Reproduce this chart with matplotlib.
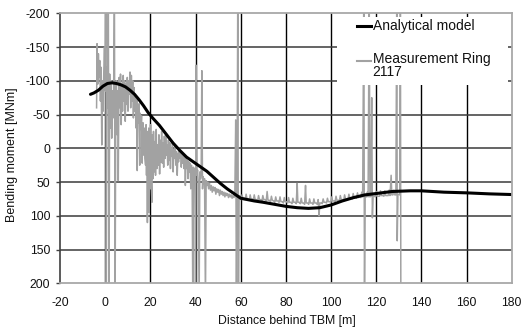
import matplotlib
matplotlib.use("Agg")
import matplotlib.pyplot as plt
from matplotlib.patches import Rectangle

plt.rcParams['font.family'] = ['Liberation Sans', 'DejaVu Sans']
plt.rcParams['axes.unicode_minus'] = False

# Analytical model (distance [m], bending moment [MNm])
model_x = [-6.5, -5, -3, -1, 1, 3, 5, 7, 9, 11, 13, 15, 17, 19, 21, 24, 27, 30, 33, 36,
           39, 42, 45, 48, 51, 54, 57, 60, 63, 66, 70, 75, 80, 85, 90, 95, 100, 105, 110,
           115, 120, 127, 135, 140, 150, 160, 170, 180]
model_y = [-80, -82, -86, -92, -96, -97, -96, -94, -91, -86, -80, -72, -63, -53, -45, -34,
           -21, -8, 3, 13, 20, 27, 34, 43, 52, 60, 67, 74, 76, 78, 80, 83, 86, 88, 89, 88,
           84, 78, 73, 69, 67, 64, 63, 63, 65, 66, 67.5, 68.5]

meas_near = [(-3.8, -60), (-3.6, -155), (-3.3, -95), (-3.0, -140), (-2.7, -105), (-2.4, -130),
             (-2.1, -70), (-1.8, -120), (-1.5, -5), (-1.2, -100), (-0.9, -55), (-0.6, -115),
             (-0.3, -150), (0.0, -85), (0.3, -230), (0.5, 230), (0.8, -120), (1.1, -60),
             (1.4, -230), (1.7, 230), (2.0, -110), (2.3, -30), (2.6, -100), (2.9, -15),
             (3.2, -85), (3.5, -45), (3.8, -105), (4.1, -230), (4.4, 230), (4.7, -75),
             (5.0, -100), (5.3, -20), (5.6, -85), (5.8, 48), (6.0, -50), (6.2, -105),
             (6.5, -60), (6.8, -110), (7.1, -35), (7.4, -95), (7.7, -55), (8.0, -108),
             (8.3, -70), (8.6, -100), (8.9, -40), (9.2, -95), (9.5, -65), (9.8, -105),
             (10.1, -55), (10.4, -100), (10.7, -80), (11.0, -113), (11.3, -60), (11.6, -108),
             (11.9, -70), (12.2, -100), (12.5, -45), (12.8, -90), (13.1, -55), (13.4, -78),
             (13.7, -30), (14.0, -72), (14.2, 33), (14.4, -62), (14.7, -38), (15.0, -66),
             (15.3, 25), (15.5, -52), (15.8, -28), (16.1, -48), (16.4, 22), (16.7, -38),
             (17.0, 10), (17.3, -30), (17.6, 15)]
meas_block = [(17.9, 25), (18.1, -35), (18.3, 40), (18.5, -20), (18.7, 110), (18.9, -25),
              (19.1, 55), (19.3, -30), (19.5, 95), (19.7, -15), (19.9, 60), (20.1, -35),
              (20.4, 50), (20.7, 80), (20.9, -20), (21.2, 45), (21.4, -25), (21.7, 35),
              (22.0, -10), (22.3, 40), (22.6, -28), (22.9, 30), (23.2, -5), (23.5, 25),
              (23.8, -20), (24.1, 38), (24.4, -12), (24.7, 20), (25.0, -25), (25.3, 22),
              (25.6, -8), (25.9, 28), (26.2, -18), (26.5, 15), (26.8, -22), (27.1, 10),
              (27.4, -5)]
meas_mid = [(27.7, 25), (28.0, -12), (28.3, 18), (28.6, -8), (28.9, 30), (29.2, 0), (29.5, 12),
            (29.8, -10), (30.1, 35), (30.4, 2), (30.7, 15), (31.0, -5), (31.3, 25), (31.6, 5),
            (31.9, 40), (32.2, 8), (32.5, 20), (32.8, 0), (33.1, 15), (33.4, 5), (33.7, 28),
            (34.0, 10), (34.3, 22), (34.6, 8), (34.9, 30), (35.2, 12), (35.5, 55), (35.8, 15),
            (36.1, 30), (36.4, 18), (36.7, 45), (37.0, 20), (37.3, 35), (37.6, 22), (37.9, 60),
            (38.2, 25), (38.5, 40), (38.8, 230), (39.1, 28), (39.4, 45), (39.7, 30), (40.0, 230),
            (40.3, -123), (40.6, 40), (40.9, 32), (41.2, 50), (41.6, 230), (41.9, 35),
            (42.2, 45), (42.5, 38), (42.8, -115), (43.1, 60), (43.4, 42), (43.7, 52),
            (44.0, 45), (44.4, 230), (44.7, 48), (45.0, 55)]
meas_band = [(45.4, 50), (45.8, 60), (46.2, 52), (46.6, 62), (47.0, 55), (47.4, 65), (47.8, 57),
             (48.2, 63), (48.6, 58), (49.0, 68), (49.4, 60), (49.8, 65), (50.2, 61), (50.6, 70),
             (51.0, 62), (51.4, 68), (51.8, 64), (52.2, 70), (52.6, 65), (53.0, 72), (53.4, 66),
             (53.8, 70), (54.2, 67), (54.6, 73), (55.0, 68), (55.4, 72), (55.8, 69), (56.2, 74),
             (56.6, 70), (57.0, 73), (57.4, 70), (57.8, -42), (58.1, 230), (58.4, 72),
             (58.7, -230), (59.0, 230), (59.3, 73), (59.7, 70)]
meas_far = [(60.2, 76), (60.6, 69), (61.0, 75), (61.5, 74), (62.0, 76), (62.4, 68), (62.8, 75),
            (63.3, 75), (63.8, 77), (64.2, 69), (64.6, 76), (65.1, 75), (65.6, 77), (66.0, 69),
            (66.4, 76), (67.0, 76), (67.5, 78), (67.9, 70), (68.3, 76), (68.9, 76), (69.4, 78),
            (69.8, 70), (70.2, 76), (70.8, 76), (71.3, 78), (71.7, 64), (72.1, 77), (72.7, 77),
            (73.2, 79), (73.6, 71), (74.0, 77), (74.6, 78), (75.1, 80), (75.5, 72), (75.9, 78),
            (76.5, 78), (77.0, 80), (77.4, 72), (77.8, 79), (78.4, 79), (78.9, 81), (79.3, 73),
            (79.7, 79), (80.3, 79), (80.8, 81), (81.2, 73), (81.6, 80), (82.2, 80), (82.7, 82),
            (83.1, 74), (83.5, 80), (84.1, 80), (84.6, 82), (85.0, 52), (85.3, 80), (85.9, 80),
            (86.4, 82), (86.8, 74), (87.2, 81), (87.8, 81), (88.3, 83), (88.7, 55), (89.0, 81),
            (89.6, 81), (90.1, 83), (90.5, 75), (90.9, 81), (91.5, 81), (92.0, 83), (92.4, 75),
            (92.8, 81), (93.4, 81), (93.9, 83), (94.3, 76), (94.7, 100), (95.0, 81), (95.6, 81),
            (96.1, 82), (96.5, 75), (96.9, 80), (97.5, 80), (98.0, 81), (98.4, 74), (98.8, 79),
            (99.4, 79), (99.9, 80), (100.3, 72), (100.7, 78), (101.3, 78), (101.8, 79),
            (102.2, 71), (102.6, 77), (103.2, 77), (103.7, 78), (104.1, 70), (104.5, 76),
            (105.1, 76), (105.6, 77), (106.0, 69), (106.4, 75), (107.0, 75), (107.5, 76),
            (107.9, 68), (108.3, 74), (108.9, 74), (109.4, 75), (109.8, 67), (110.2, 74),
            (110.8, 73), (111.3, 74), (111.7, 66), (112.1, 73), (112.7, 72), (113.2, 73),
            (113.6, 65), (114.0, 72), (114.5, -230), (114.8, 230), (115.1, 72), (115.6, 72),
            (116.0, 65), (116.4, 72), (116.9, -230), (117.2, 72), (117.6, 71), (118.0, -75),
            (118.3, 103), (118.6, 71), (119.1, 71), (119.6, 72), (120.0, 64), (120.4, 71),
            (121.0, 71), (121.5, 71), (121.9, 63), (122.3, 70), (122.9, 70), (123.4, 71),
            (123.8, 63), (124.2, 70), (124.8, 70), (125.3, 70), (125.7, 62), (126.1, 70),
            (126.6, 40), (126.9, 69), (127.4, 69), (127.8, 62), (128.2, 69), (128.7, 69),
            (129.1, -230), (129.3, 137), (129.6, 69), (130.0, 68), (130.4, 69), (130.7, -230),
            (130.9, 230)]

x_ticks = [-20, 0, 20, 40, 60, 80, 100, 120, 140, 160, 180]
y_ticks = [-200, -150, -100, -50, 0, 50, 100, 150, 200]
legend_labels = ["Analytical model", "Measurement Ring\n2117"]

meas = meas_near + meas_block + meas_mid + meas_band + meas_far
meas_x = [p[0] for p in meas]
meas_y = [p[1] for p in meas]

fig = plt.figure(figsize=(5.29, 3.29), dpi=100)
ax = fig.add_axes([0.1134, 0.1389, 0.854, 0.8207])

gray = '#a2a2a2'
ax.plot(meas_x, meas_y, color=gray, lw=1.1, zorder=2)
ax.plot(model_x, model_y, color='black', lw=2.2, zorder=3, solid_capstyle='round')

ax.set_xlim(-20, 180)
ax.set_ylim(200, -200)
ax.set_xticks(x_ticks)
ax.set_yticks(y_ticks)
ax.set_xticklabels([str(v) for v in x_ticks])
ax.set_yticklabels([str(v) for v in y_ticks])

for xv in x_ticks[1:-1]:
    ax.axvline(xv, color='black', lw=1.0, zorder=1)
for yv in y_ticks[1:-1]:
    ax.axhline(yv, color='#3a3a3a', lw=1.1, zorder=1)

for side in ['top', 'right', 'bottom']:
    ax.spines[side].set_color('#a8a8a8')
    ax.spines[side].set_linewidth(1.3)
ax.spines['left'].set_color('#404040')
ax.spines['left'].set_linewidth(1.2)
for s in ax.spines.values():
    s.set_zorder(6)

ax.tick_params(axis='y', direction='out', length=3, width=1, color='#404040', pad=4,
               labelsize=8.7, labelcolor='#111111')
ax.tick_params(axis='x', length=0, pad=10, labelsize=8.7, labelcolor='#111111')

ax.set_xlabel("Distance behind TBM [m]", fontsize=8.8, color='#111111')
ax.set_ylabel("Bending moment [MNm]", fontsize=9, color='#111111')
ax.xaxis.set_label_coords(0.503, -0.117)
ax.yaxis.set_label_coords(-0.092, 0.475)

# legend box
ax.add_patch(Rectangle((0.613, 0.734), 0.379, 0.252, transform=ax.transAxes,
                       facecolor='white', edgecolor='none', zorder=5))
ax.plot([0.6575, 0.6885], [0.953, 0.953], transform=ax.transAxes, color='black',
        lw=2.2, zorder=6, clip_on=False)
ax.plot([0.6575, 0.6885], [0.823, 0.823], transform=ax.transAxes, color=gray,
        lw=1.5, zorder=6, clip_on=False)
ax.text(0.692, 0.953, legend_labels[0], transform=ax.transAxes, fontsize=10,
        va='center', ha='left', zorder=7, color='#111111')
ax.text(0.692, 0.858, legend_labels[1], transform=ax.transAxes, fontsize=10,
        va='top', ha='left', zorder=7, color='#111111', linespacing=0.95)

fig.savefig("out.png", dpi=100)
